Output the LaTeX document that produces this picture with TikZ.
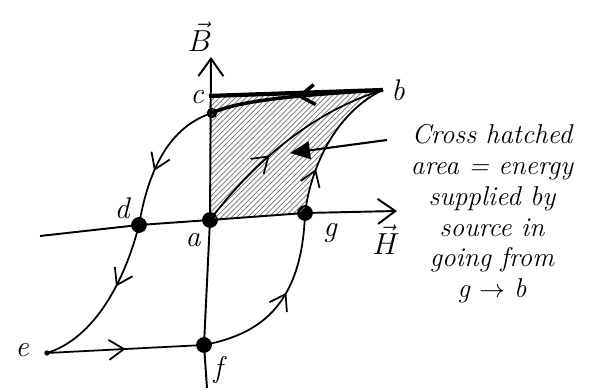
\documentclass[tikz,border=0pt]{standalone}
\usetikzlibrary{arrows.meta,decorations.markings,patterns}
\begin{document}
\begin{tikzpicture}[x=0.02cm, y=-0.02cm,
  lbl/.style={font=\fontsize{17}{19}\selectfont\itshape, inner sep=1pt},
  note/.style={font=\fontsize{15.5}{17.5}\selectfont\itshape, align=center},
  dot/.style={circle, fill, inner sep=0pt, minimum size=9pt},
  axis/.style={line width=1.1pt, -{Straight Barb[length=3.5mm,width=5mm]}},
  curve/.style={line width=1pt},
  flow/.style={postaction={decorate}, decoration={markings,
      mark=at position #1 with {\arrow{Straight Barb[length=3mm,width=4mm]}}}}
]
  \useasboundingbox (0,0) rectangle (613,391);
  % points of the loop
  \node[dot] (a) at (210,220) {};
  \node[dot] (d) at (139,225) {};
  \node[dot] (g) at (305,213) {};
  \node[dot] (f) at (204,345) {};
  \node[dot, minimum size=6pt] (c) at (212,113) {};
  \node[circle, fill, inner sep=0pt, minimum size=3pt] (e) at (47,353) {};
  \coordinate (b) at (383,90);
  \coordinate (ctop) at (209,96);
  \coordinate (Hend) at (40,236);
  \coordinate (Htip) at (397,211);
  \coordinate (Bend) at (207,388);
  \coordinate (Btip) at (211,57);
  % cross hatched area
  \fill[pattern=north east lines, pattern color=black!55] (a.center) -- (ctop) -- (b)
    .. controls (340,110) and (312,160) .. (g.center) -- cycle;
  % axes
  \draw[axis] (Hend) -- (d.center) -- (a.center) -- (g.center) -- (Htip);
  \draw[axis] (Bend) -- (f.center) -- (a.center) -- (Btip);
  % hysteresis loop
  \draw[curve, flow=0.4] (a.center) .. controls (240,180) and (300,115) .. (b);
  \draw[curve, flow=0.55] (f.center) .. controls (255,335) and (302,310) .. (g.center);
  \draw[curve, flow=0.3] (g.center) .. controls (312,160) and (340,110) .. (b);
  \draw[line width=2.4pt] (ctop) -- (b);
  \draw[line width=2pt, flow=0.5] (b) .. controls (300,95) and (240,100) .. (c.center);
  \draw[curve, flow=0.6] (c.center) .. controls (175,125) and (150,160) .. (d.center);
  \draw[curve, flow=0.4] (d.center) .. controls (125,280) and (95,338) .. (e.center);
  \draw[curve, flow=0.5] (e.center) -- (f.center);
  % labels
  \node[lbl] at (200,37) {$\vec{B}$};
  \node[lbl] at (386,240) {$\vec{H}$};
  \node[lbl] at (197,97) {c};
  \node[lbl] at (398,90) {b};
  \node[lbl] at (122,208) {d};
  \node[lbl] at (193,240) {a};
  \node[lbl] at (330,233) {g};
  \node[lbl] at (22,350) {e};
  \node[lbl] at (218,370) {f};
  % note
  \node[note] (txt) at (492,214) {Cross hatched\\area = energy\\supplied by\\source in\\going from\\g $\rightarrow$ b};
  \coordinate (ptr) at (290,153);
  \draw[line width=1.2pt, -{Triangle[length=4mm,width=3.5mm]}] (387,140) -- (ptr);
\end{tikzpicture}
\end{document}
